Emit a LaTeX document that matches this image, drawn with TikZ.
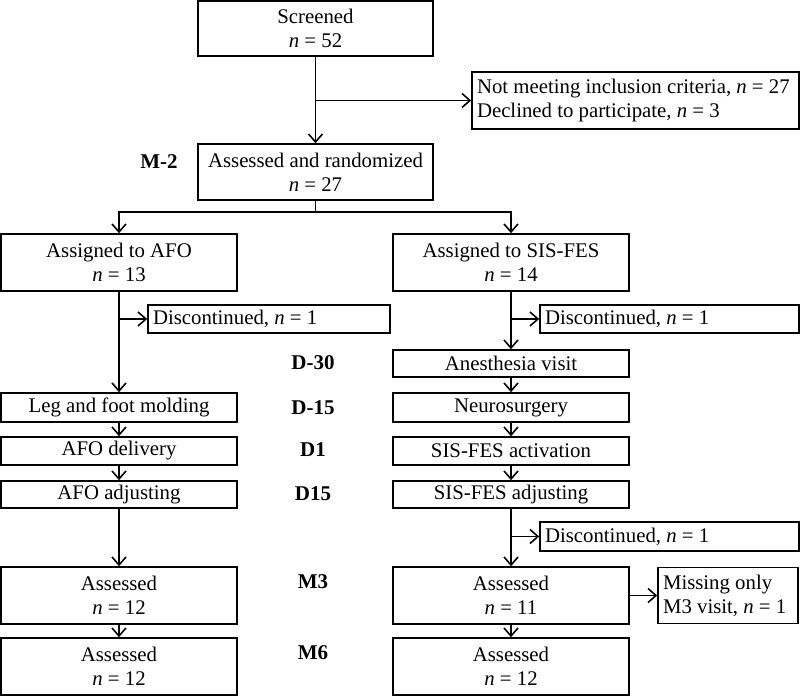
\documentclass[tikz,border=0pt]{standalone}
\usepackage{fontspec}
\setmainfont{Liberation Serif}
\usetikzlibrary{arrows.meta}
\begin{document}
\begin{tikzpicture}[x=1pt,y=-1pt,
  box/.style={draw,line width=1.6pt,inner sep=0pt,align=flush center,font=\fontsize{20.8}{24}\selectfont},
  lbox/.style={draw,line width=1.6pt,inner xsep=5pt,inner ysep=0pt,align=flush left,font=\fontsize{20.8}{24}\selectfont},
  tlabel/.style={font=\fontsize{21}{24}\selectfont\bfseries},
  arr/.style={line width=1.6pt,-{Straight Barb[length=8pt,width=14pt,line width=1.6pt]}},
  ln/.style={line width=1.6pt}]
\useasboundingbox (0,0) rectangle (800,696);
% top
\node[box,minimum width=235pt,minimum height=55pt] (scr) at (315.5,28.5) {Screened\\\textit{n} = 52};
\node[lbox,text width=317pt,minimum height=57pt] (excl) at (635.5,100.5) {\mbox{Not meeting inclusion criteria, \textit{n} = 27}\\Declined to participate, \textit{n} = 3};
\node[box,minimum width=235pt,minimum height=56pt] (rand) at (315.5,172) {Assessed and randomized\\\textit{n} = 27};
\node[tlabel] (m2) at (159,162) {M-2};
% groups
\node[box,minimum width=236pt,minimum height=57pt] (afo) at (119,262.5) {Assigned to AFO\\\textit{n} = 13};
\node[box,minimum width=236pt,minimum height=57pt] (sis) at (511,262.5) {Assigned to SIS-FES\\\textit{n} = 14};
\node[lbox,text width=232pt,minimum height=28pt] (d1) at (269,319) {Discontinued, \textit{n} = 1};
\node[lbox,text width=249pt,minimum height=28pt] (d2) at (669.5,319) {Discontinued, \textit{n} = 1};
% steps
\node[box,minimum width=236pt,minimum height=27pt] (anes) at (511,363.5) {Anesthesia visit};
\node[box,minimum width=236pt,minimum height=29pt] (leg) at (119,407.5) {Leg and foot molding};
\node[box,minimum width=236pt,minimum height=29pt] (neuro) at (511,407.5) {Neurosurgery};
\node[box,minimum width=236pt,minimum height=28pt] (afodel) at (119,451) {AFO delivery};
\node[box,minimum width=236pt,minimum height=28pt] (act) at (511,451) {SIS-FES activation};
\node[box,minimum width=236pt,minimum height=27pt] (afoadj) at (119,494.5) {AFO adjusting};
\node[box,minimum width=236pt,minimum height=27pt] (sisadj) at (511,494.5) {SIS-FES adjusting};
\node[lbox,text width=249pt,minimum height=29pt] (d3) at (669.5,536.5) {Discontinued, \textit{n} = 1};
\node[box,minimum width=236pt,minimum height=57pt] (a1l) at (119,595.5) {Assessed\\\textit{n} = 12};
\node[box,minimum width=236pt,minimum height=57pt] (a1r) at (511,595.5) {Assessed\\\textit{n} = 11};
\node[lbox,text width=130pt,minimum height=56pt] (miss) at (728,595.5) {Missing only\\\mbox{M3 visit, \textit{n} = 1}};
\node[box,minimum width=236pt,minimum height=57pt] (a2l) at (119,666.5) {Assessed\\\textit{n} = 12};
\node[box,minimum width=236pt,minimum height=57pt] (a2r) at (511,666.5) {Assessed\\\textit{n} = 12};
% time labels
\node[tlabel] (t1) at (313,363) {D-30};
\node[tlabel] (t2) at (313,408) {D-15};
\node[tlabel] (t3) at (313,450) {D1};
\node[tlabel] (t4) at (313,494) {D15};
\node[tlabel] (t5) at (313,582) {M3};
\node[tlabel] (t6) at (313,653) {M6};
% connectors
\draw[arr] (scr) -- (rand);
\draw[arr] (scr.south |- excl.west) -- (excl.west);
\coordinate (split) at (315.5,212);
\draw[ln] (rand.south) -- (split);
\draw[arr] (split) -| (afo.north);
\draw[arr] (split) -| (sis.north);
\draw[arr] (afo) -- (leg);
\draw[arr] (afo.south |- d1.west) -- (d1.west);
\draw[arr] (sis) -- (anes);
\draw[arr] (sis.south |- d2.west) -- (d2.west);
\draw[arr] (leg) -- (afodel);
\draw[arr] (afodel) -- (afoadj);
\draw[arr] (afoadj) -- (a1l);
\draw[arr] (a1l) -- (a2l);
\draw[arr] (anes) -- (neuro);
\draw[arr] (neuro) -- (act);
\draw[arr] (act) -- (sisadj);
\draw[arr] (sisadj) -- (a1r);
\draw[arr] (sisadj.south |- d3.west) -- (d3.west);
\draw[arr] (a1r) -- (miss);
\draw[arr] (a1r) -- (a2r);
\end{tikzpicture}
\end{document}
